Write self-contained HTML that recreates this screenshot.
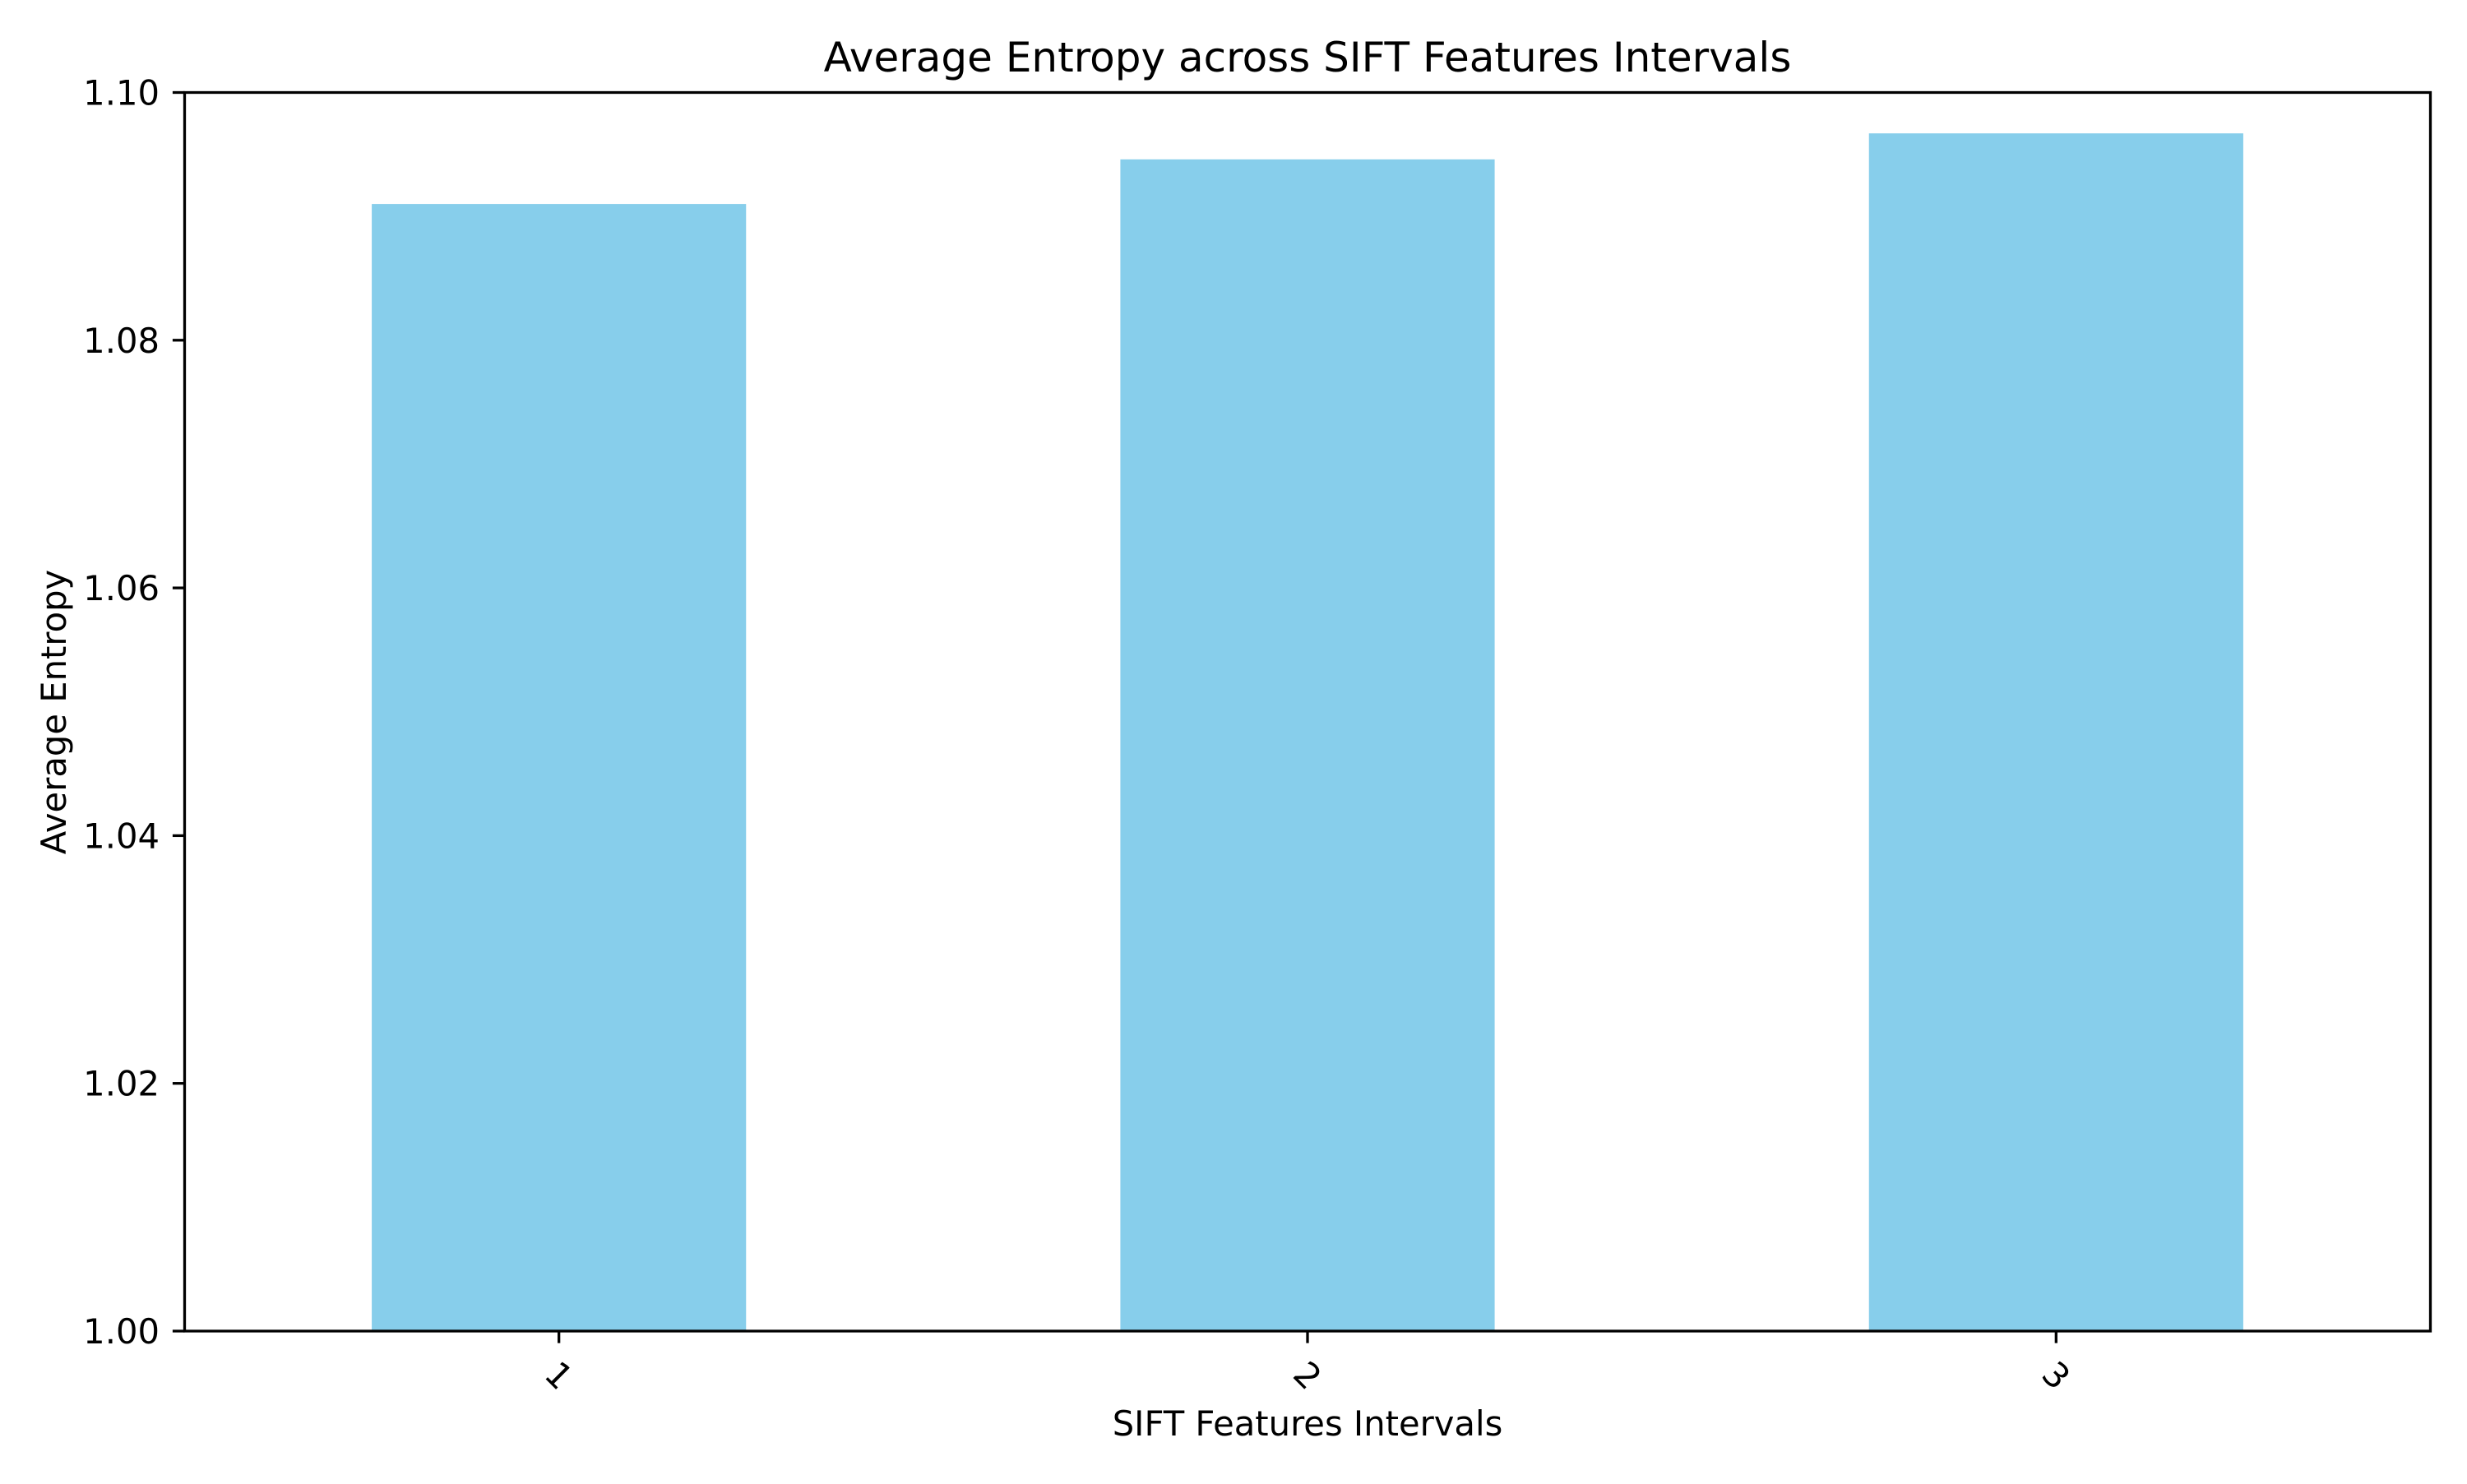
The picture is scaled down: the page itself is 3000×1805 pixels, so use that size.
<!DOCTYPE html>
<html><head><meta charset="utf-8"><style>
html,body{margin:0;padding:0;background:#fff;}
svg text{font-family:"DejaVu Sans","Liberation Sans",sans-serif;fill:#000;}
</style></head><body>
<svg id="chart" width="3000" height="1800" viewBox="0 0 3000 1800" xmlns="http://www.w3.org/2000/svg">
<rect x="0" y="0" width="3000" height="1800" fill="#fff"/>
<text x="1590" y="87" font-size="50" text-anchor="middle">Average Entropy across SIFT Features Intervals</text>
<text x="1590" y="1746" font-size="41.7" text-anchor="middle">SIFT Features Intervals</text>
<text transform="translate(80,866) rotate(-90)" font-size="41.7" text-anchor="middle">Average Entropy</text>
<g id="bars"></g>
<g id="yticks"></g>
<g id="xticks"></g>
<rect x="224.5" y="112.5" width="2731" height="1506.5" fill="none" stroke="#000" stroke-width="3.3"/>
</svg>
<script>
const categories = ["1", "2", "3"];
const values = [1.0910, 1.0946, 1.0967];
const yTicks = [1.00, 1.02, 1.04, 1.06, 1.08, 1.10];
const yTickLabels = ["1.00", "1.02", "1.04", "1.06", "1.08", "1.10"];

const L = 224.5, R = 2955.5, T = 112.5, B = 1619;
const yMin = 1.0, yMax = 1.1;
const NS = "http://www.w3.org/2000/svg";
function yScale(v){ return B - (v - yMin) / (yMax - yMin) * (B - T); }
function xScale(i){ return L + (i + 0.5) / categories.length * (R - L); }
const bw = 0.5 / categories.length * (R - L);

const barsG = document.getElementById('bars');
values.forEach((v, i) => {
  const r = document.createElementNS(NS, 'rect');
  r.setAttribute('x', xScale(i) - bw / 2);
  r.setAttribute('y', yScale(v));
  r.setAttribute('width', bw);
  r.setAttribute('height', B - yScale(v));
  r.setAttribute('fill', '#87ceeb');
  
  
  barsG.appendChild(r);
});

const yG = document.getElementById('yticks');
yTicks.forEach((t, i) => {
  const y = yScale(t);
  const ln = document.createElementNS(NS, 'line');
  ln.setAttribute('x1', L - 14.6); ln.setAttribute('x2', L);
  ln.setAttribute('y1', y); ln.setAttribute('y2', y);
  ln.setAttribute('stroke', '#000'); ln.setAttribute('stroke-width', '3.3');
  
  
  yG.appendChild(ln);
  const tx = document.createElementNS(NS, 'text');
  tx.setAttribute('x', 194); tx.setAttribute('y', y + 15);
  tx.setAttribute('font-size', '41.7'); tx.setAttribute('text-anchor', 'end');
  tx.textContent = yTickLabels[i];
  
  
  yG.appendChild(tx);
});

const xG = document.getElementById('xticks');
categories.forEach((c, i) => {
  const x = xScale(i);
  const ln = document.createElementNS(NS, 'line');
  ln.setAttribute('x1', x); ln.setAttribute('x2', x);
  ln.setAttribute('y1', B); ln.setAttribute('y2', B + 14.6);
  ln.setAttribute('stroke', '#000'); ln.setAttribute('stroke-width', '3.3');
  
  
  xG.appendChild(ln);
  const tx = document.createElementNS(NS, 'text');
  tx.setAttribute('transform', 'translate(' + x + ',1673) rotate(45)');
  tx.setAttribute('font-size', '41.7'); tx.setAttribute('text-anchor', 'middle');
  tx.setAttribute('dominant-baseline', 'central');
  tx.textContent = c;
  
  
  xG.appendChild(tx);
});
</script>
</body></html>
